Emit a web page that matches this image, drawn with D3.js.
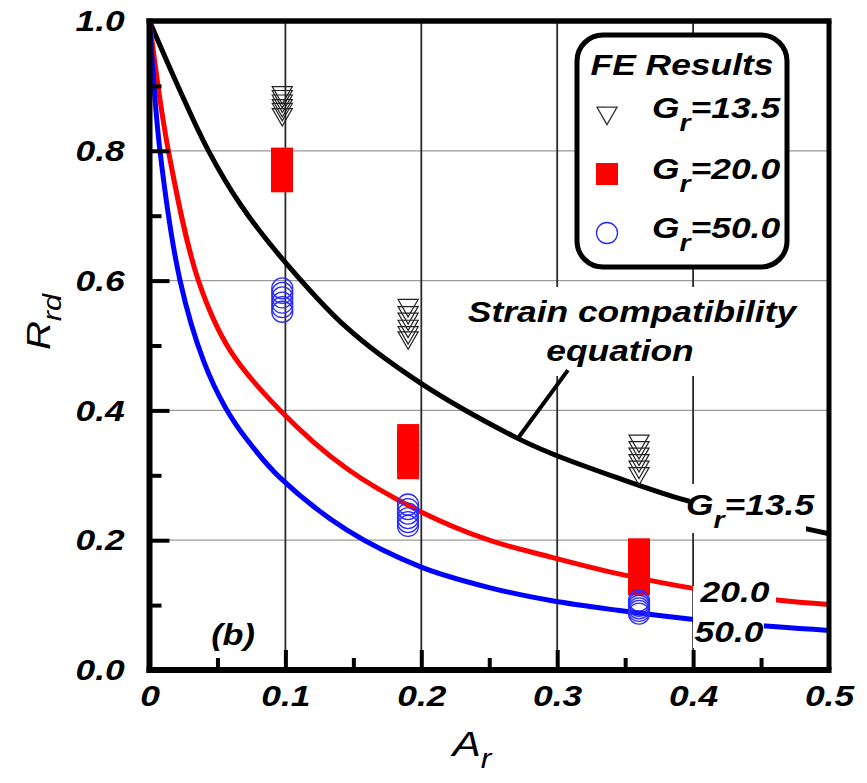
<!DOCTYPE html>
<html><head><meta charset="utf-8">
<script src="https://cdn.jsdelivr.net/npm/d3@7"></script>
<style>
body{margin:0;background:#fff;}
text{font-family:"Liberation Sans",Arial,sans-serif;}
</style>
</head><body>
<svg id="chart" width="867" height="783"></svg>
<script>
// ---------- data ----------
const xTicks = [0, 0.1, 0.2, 0.3, 0.4, 0.5];
const xTickLabels = ["0", "0.1", "0.2", "0.3", "0.4", "0.5"];
const xMinorTicks = [0.05, 0.15, 0.25, 0.35, 0.45];
const yTicks = [0, 0.2, 0.4, 0.6, 0.8, 1.0];
const yTickLabels = ["0.0", "0.2", "0.4", "0.6", "0.8", "1.0"];
const yMinorTicks = [0.1, 0.3, 0.5, 0.7, 0.9];
const xGrid = [0.1, 0.2, 0.3, 0.4];
const yGrid = [0.2, 0.4, 0.6, 0.8];

// Strain compatibility equation curves
const curveA_135 = [0, 0.0213, 0.0434, 0.0667, 0.0962, 0.1454, 0.1995, 0.268, 0.2953, 0.3445, 0.3937, 0.45, 0.5];
const curveR_135 = [1.0, 0.898, 0.800, 0.718, 0.6375, 0.527, 0.442, 0.360, 0.334, 0.296, 0.262, 0.233, 0.210];
const curveA_200 = [0, 0.0139, 0.036, 0.0594, 0.0962, 0.1454, 0.1995, 0.25, 0.2953, 0.3445, 0.4023, 0.4613, 0.5];
const curveR_200 = [1.0, 0.800, 0.600, 0.492, 0.400, 0.310, 0.244, 0.200, 0.174, 0.1485, 0.125, 0.108, 0.101];
const curveA_500 = [0, 0.0077, 0.0225, 0.040, 0.0557, 0.0717, 0.0962, 0.1454, 0.1995, 0.25, 0.2953, 0.3445, 0.4023, 0.4613, 0.5];
const curveR_500 = [1.0, 0.800, 0.600, 0.475, 0.405, 0.355, 0.296, 0.2155, 0.159, 0.127, 0.107, 0.092, 0.0775, 0.0665, 0.061];

// FE results
const feA_135 = [0.0977,0.0977,0.0977,0.0977,0.0977,0.0977, 0.1903,0.1903,0.1903,0.1903,0.1903,0.1903, 0.3602,0.3602,0.3602,0.3602,0.3602,0.3602];
const feR_135 = [0.890,0.884,0.877,0.870,0.864,0.856, 0.562,0.551,0.541,0.530,0.520,0.512, 0.353,0.343,0.333,0.323,0.313,0.303];
const feA_200 = [0.0975,0.0975,0.0975,0.0975,0.0975,0.0975, 0.1903,0.1903,0.1903,0.1903,0.1903,0.1903, 0.3602,0.3602,0.3602,0.3602,0.3602,0.3602];
const feR_200 = [0.788,0.781,0.774,0.767,0.760,0.753, 0.362,0.352,0.342,0.332,0.321,0.311, 0.186,0.175,0.164,0.153,0.142,0.132];
const feA_500 = [0.0977,0.0977,0.0977,0.0977,0.0977,0.0977, 0.1902,0.1902,0.1902,0.1902,0.1902,0.1902, 0.3602,0.3602,0.3602,0.3602,0.3602,0.3602];
const feR_500 = [0.588,0.581,0.574,0.566,0.559,0.552, 0.255,0.248,0.241,0.234,0.228,0.222, 0.107,0.103,0.099,0.095,0.091,0.087];

const legendTitle = "FE Results";
const legendLabels = ["13.5", "20.0", "50.0"];
const curveLabels = ["13.5", "20.0", "50.0"];
const annotationLines = ["Strain compatibility", "equation"];
const pointerA = [0.2718, 0.3079];
const pointerR = [0.359, 0.462];

// ---------- layout ----------
const SX = 1.18; // horizontal glyph stretch
const svg = d3.select("#chart");
const x = d3.scaleLinear().domain([0, 0.5]).range([149.5, 829]);
const y = d3.scaleLinear().domain([0, 1]).range([670, 21]);

function stext(parent, px, py, anchor, size, weight, parts, rotate) {
  const g = parent.append("g")
    .attr("transform", `translate(${px},${py})` + (rotate ? ` rotate(${rotate})` : "") + ` scale(${SX},1)`);
  const t = g.append("text").attr("text-anchor", anchor)
    .attr("font-size", size).attr("font-weight", weight).attr("font-style", "italic").attr("fill", "#000");
  parts.forEach(p => {
    const ts = t.append("tspan").text(p.t);
    if (p.s) ts.attr("font-size", p.s);
    if (p.dy) ts.attr("dy", p.dy);
  });
  return g;
}

// gridlines
svg.append("g").selectAll("line").data(yGrid).join("line")
  .attr("x1", x(0)).attr("x2", x(0.5)).attr("y1", d => y(d)).attr("y2", d => y(d))
  .attr("stroke", "#9a9a9a").attr("stroke-width", 1.3);
svg.append("g").selectAll("line").data(xGrid).join("line")
  .attr("x1", d => x(d)).attr("x2", d => x(d)).attr("y1", y(0)).attr("y2", y(1))
  .attr("stroke", "#2a2a2a").attr("stroke-width", 1.8);

// curves
const line = d3.line().x(d => x(d[0])).y(d => y(d[1])).curve(d3.curveCatmullRom.alpha(0.5));
const curves = [
  {A: curveA_135, R: curveR_135, c: "#000000"},
  {A: curveA_200, R: curveR_200, c: "#ff0000"},
  {A: curveA_500, R: curveR_500, c: "#0000ff"}
];
svg.append("g").selectAll("path").data(curves).join("path")
  .attr("d", d => line(d.A.map((a, i) => [a, d.R[i]])))
  .attr("fill", "none").attr("stroke", d => d.c).attr("stroke-width", 5);

// FE markers
const tri = d3.symbol().type(d3.symbolTriangle).size(175)();
const sq = d3.symbol().type(d3.symbolSquare).size(484)();
const gm = svg.append("g");
gm.selectAll("path.sq").data(feA_200.map((a, i) => [a, feR_200[i]])).join("path")
  .attr("class", "sq").attr("d", sq)
  .attr("transform", d => `translate(${x(d[0])},${y(d[1])})`).attr("fill", "#ff0000");
gm.selectAll("path.tri").data(feA_135.map((a, i) => [a, feR_135[i]])).join("path")
  .attr("class", "tri").attr("d", tri)
  .attr("transform", d => `translate(${x(d[0])},${y(d[1])}) rotate(180)`)
  .attr("fill", "none").attr("stroke", "#222").attr("stroke-width", 1.2);
gm.selectAll("circle").data(feA_500.map((a, i) => [a, feR_500[i]])).join("circle")
  .attr("cx", d => x(d[0])).attr("cy", d => y(d[1])).attr("r", 10.5)
  .attr("fill", "none").attr("stroke", "#2a2aff").attr("stroke-width", 1.3);

// curve labels with white background
const lab = svg.append("g");
lab.append("rect").attr("x", 690).attr("y", 484).attr("width", 116).attr("height", 49).attr("fill", "#fff");
lab.append("rect").attr("x", 693).attr("y", 586).attr("width", 83).attr("height", 34).attr("fill", "#fff");
lab.append("rect").attr("x", 693).attr("y", 620).attr("width", 71).attr("height", 28).attr("fill", "#fff");
stext(lab, 686, 515, "start", 30, "bold", [{t: "G"}, {t: "r", s: 24, dy: 13}, {t: "=" + curveLabels[0], dy: -13}]);
stext(lab, 735, 602, "middle", 30, "bold", [{t: curveLabels[1]}]);
stext(lab, 729, 642, "middle", 30, "bold", [{t: curveLabels[2]}]);

// annotation
lab.append("rect").attr("x", 462).attr("y", 287).attr("width", 338).attr("height", 89).attr("fill", "#fff");
stext(lab, 632, 322, "middle", 30, "bold", [{t: annotationLines[0]}]);
stext(lab, 620, 361, "middle", 30, "bold", [{t: annotationLines[1]}]);
svg.append("line").attr("x1", x(pointerA[0])).attr("y1", y(pointerR[0]))
  .attr("x2", x(pointerA[1])).attr("y2", y(pointerR[1]))
  .attr("stroke", "#000").attr("stroke-width", 4);

// (b)
stext(svg, 233, 645, "middle", 29, "bold", [{t: "(b)"}]);

// frame
const fr = svg.append("g").attr("stroke", "#000").attr("fill", "none");
fr.append("line").attr("x1", x(0) - 3).attr("x2", x(0.5) + 2.5).attr("y1", y(1)).attr("y2", y(1)).attr("stroke-width", 5.5);
fr.append("line").attr("x1", x(0.5)).attr("x2", x(0.5)).attr("y1", y(1)).attr("y2", y(0)).attr("stroke-width", 5);

// axes
function styleAxis(g) {
  g.select(".domain").remove();
  g.selectAll(".tick line").attr("stroke", "#000").attr("stroke-width", 4);
}
const xa = svg.append("g").attr("transform", `translate(0,${y(0)})`)
  .call(d3.axisBottom(x).tickValues(xTicks).tickSize(-20).tickPadding(15).tickFormat((d, i) => xTickLabels[i]));
styleAxis(xa);
xa.selectAll(".tick text").attr("font-size", 30).attr("font-weight", "bold").attr("font-style", "italic")
  .attr("fill", "#000").attr("font-family", '"Liberation Sans",Arial,sans-serif').attr("transform", `scale(${SX},1)`);
xa.selectAll(".tick").filter(d => d === 0 || d === 0.5).select("line").remove();
const xm = svg.append("g").attr("transform", `translate(0,${y(0)})`)
  .call(d3.axisBottom(x).tickValues(xMinorTicks).tickSize(-12).tickFormat(""));
styleAxis(xm);

const ya = svg.append("g").attr("transform", `translate(${x(0)},0)`)
  .call(d3.axisLeft(y).tickValues(yTicks).tickSize(-20).tickPadding(21).tickFormat((d, i) => yTickLabels[i]));
styleAxis(ya);
ya.selectAll(".tick text").attr("font-size", 30).attr("font-weight", "bold").attr("font-style", "italic")
  .attr("fill", "#000").attr("font-family", '"Liberation Sans",Arial,sans-serif').attr("transform", `scale(${SX},1)`);
ya.selectAll(".tick").filter(d => d === 0 || d === 1).select("line").remove();
const ym = svg.append("g").attr("transform", `translate(${x(0)},0)`)
  .call(d3.axisLeft(y).tickValues(yMinorTicks).tickSize(-12).tickFormat(""));
styleAxis(ym);

fr.append("line").attr("x1", x(0)).attr("x2", x(0)).attr("y1", y(1) - 2.5).attr("y2", y(0) + 3).attr("stroke-width", 6);
fr.append("line").attr("x1", x(0) - 3).attr("x2", x(0.5) + 2.5).attr("y1", y(0)).attr("y2", y(0)).attr("stroke-width", 6);

// axis titles
stext(svg, 472, 756, "middle", 36, "normal", [{t: "A"}, {t: "r", s: 27, dy: 12}]);
stext(svg, 50, 322, "middle", 34, "normal", [{t: "R"}, {t: "rd", s: 26, dy: 11}], -90);

// legend
const lg = svg.append("g");
lg.append("rect").attr("x", 577).attr("y", 35).attr("width", 210).attr("height", 232).attr("rx", 26).attr("ry", 26)
  .attr("fill", "#fff").attr("stroke", "#000").attr("stroke-width", 5);
stext(lg, 682, 75, "middle", 30, "bold", [{t: legendTitle}]);
const legY = [113, 174, 233];
lg.append("path").attr("d", tri).attr("transform", `translate(607,${legY[0]}) rotate(180)`)
  .attr("fill", "none").attr("stroke", "#333").attr("stroke-width", 1.3);
lg.append("path").attr("d", sq).attr("transform", `translate(607,${legY[1]})`).attr("fill", "#ff0000");
lg.append("circle").attr("cx", 607).attr("cy", legY[2]).attr("r", 10.5).attr("fill", "none").attr("stroke", "#2a2aff").attr("stroke-width", 1.3);
legendLabels.forEach((l, i) => {
  stext(lg, 652, legY[i] + 5, "start", 30, "bold", [{t: "G"}, {t: "r", s: 24, dy: 13}, {t: "=" + l, dy: -13}]);
});
</script>
</body></html>
